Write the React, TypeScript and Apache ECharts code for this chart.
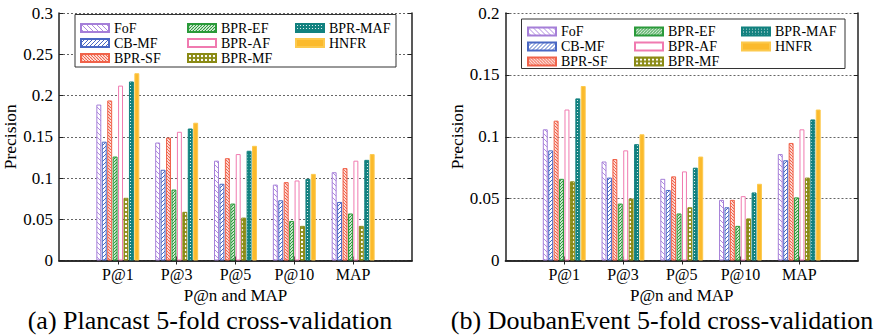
import React, { useEffect, useRef } from 'react';
import * as echarts from 'echarts';

const categories = ['', 'P@1', 'P@3', 'P@5', 'P@10', 'MAP', ''];
const methods = ['FoF', 'CB-MF', 'BPR-SF', 'BPR-EF', 'BPR-AF', 'BPR-MF', 'BPR-MAF', 'HNFR'];

// (a) Plancast
const plancastFoF = [0.189, 0.143, 0.121, 0.092, 0.107];
const plancastCBMF = [0.144, 0.110, 0.093, 0.073, 0.071];
const plancastBPRSF = [0.194, 0.149, 0.124, 0.095, 0.112];
const plancastBPREF = [0.126, 0.086, 0.069, 0.048, 0.057];
const plancastBPRAF = [0.212, 0.156, 0.129, 0.097, 0.121];
const plancastBPRMF = [0.076, 0.059, 0.052, 0.042, 0.042];
const plancastBPRMAF = [0.217, 0.160, 0.133, 0.099, 0.122];
const plancastHNFR = [0.227, 0.167, 0.139, 0.105, 0.129];

// (b) DoubanEvent
const doubanFoF = [0.106, 0.080, 0.066, 0.049, 0.086];
const doubanCBMF = [0.089, 0.067, 0.057, 0.043, 0.081];
const doubanBPRSF = [0.113, 0.082, 0.068, 0.049, 0.095];
const doubanBPREF = [0.066, 0.046, 0.038, 0.028, 0.051];
const doubanBPRAF = [0.122, 0.089, 0.072, 0.052, 0.106];
const doubanBPRMF = [0.064, 0.050, 0.043, 0.034, 0.067];
const doubanBPRMAF = [0.131, 0.094, 0.075, 0.055, 0.114];
const doubanHNFR = [0.141, 0.102, 0.084, 0.062, 0.122];

const plancastSeries = [plancastFoF, plancastCBMF, plancastBPRSF, plancastBPREF, plancastBPRAF, plancastBPRMF, plancastBPRMAF, plancastHNFR];
const doubanSeries = [doubanFoF, doubanCBMF, doubanBPRSF, doubanBPREF, doubanBPRAF, doubanBPRMF, doubanBPRMAF, doubanHNFR];

const plancastTicks = { max: 0.3, interval: 0.05 };
const doubanTicks = { max: 0.2, interval: 0.05 };

const FONT = '"Liberation Serif", "Times New Roman", serif';

function makeCanvas(size: number) {
  const c = document.createElement('canvas');
  c.width = size;
  c.height = size;
  return c;
}

function hatch(color: string, size: number, dir: 'back' | 'fwd', lw: number) {
  const c = makeCanvas(size);
  const ctx = c.getContext('2d')!;
  ctx.fillStyle = '#ffffff';
  ctx.fillRect(0, 0, size, size);
  ctx.strokeStyle = color;
  ctx.lineWidth = lw;
  for (let k = -1; k <= 1; k++) {
    ctx.beginPath();
    if (dir === 'back') {
      ctx.moveTo(k * size, 0);
      ctx.lineTo(k * size + size, size);
    } else {
      ctx.moveTo(k * size, size);
      ctx.lineTo(k * size + size, 0);
    }
    ctx.stroke();
  }
  return { image: c, repeat: 'repeat', imageWidth: size, imageHeight: size };
}

function holes(color: string, size: number, r: number) {
  const c = makeCanvas(size);
  const ctx = c.getContext('2d')!;
  ctx.fillStyle = color;
  ctx.fillRect(0, 0, size, size);
  ctx.fillStyle = '#ffffff';
  ctx.beginPath();
  ctx.arc(size / 2, size / 2, r, 0, Math.PI * 2);
  ctx.fill();
  return { image: c, repeat: 'repeat', imageWidth: size, imageHeight: size };
}

function buildStyles() {
  return [
    { color: hatch('#b08ae0', 5, 'back', 1), borderColor: '#a57fd8', borderWidth: 1 },
    { color: hatch('#4a68c4', 4, 'fwd', 1), borderColor: '#4a68c4', borderWidth: 1 },
    { color: hatch('#f0624a', 3, 'back', 1.2), borderColor: '#f0624a', borderWidth: 1 },
    { color: hatch('#2a9a3a', 3, 'fwd', 1.2), borderColor: '#2a9a3a', borderWidth: 1 },
    { color: '#ffffff', borderColor: '#f07ab0', borderWidth: 1 },
    { color: holes('#8a8a14', 4, 1.2), borderColor: '#8a8a14', borderWidth: 1 },
    { color: holes('#12817f', 3, 0.6), borderColor: '#12817f', borderWidth: 1 },
    { color: '#fbba2c', borderColor: '#fcc94e', borderWidth: 1 },
  ];
}

const gridLine = { show: true, lineStyle: { color: '#666', type: [2, 2], width: 1 } };
const frame = { show: true, lineStyle: { color: '#222', width: 1.5 } };
const hideEdge = (i: number) => i !== 0 && i !== categories.length - 1;

function axesFor(gridIndex: number, ticks: { max: number; interval: number }, nameGap: number) {
  const xAxes = [
    {
      type: 'category', gridIndex, data: categories, boundaryGap: false, position: 'bottom',
      axisLine: frame,
      axisTick: { show: true, inside: true, length: 4, interval: (i: number) => hideEdge(i), lineStyle: { color: '#222' } },
      axisLabel: { fontFamily: FONT, fontSize: 16, color: '#000', margin: 6, interval: 0 },
      name: 'P@n and MAP', nameLocation: 'middle', nameGap: 26,
      nameTextStyle: { fontFamily: FONT, fontSize: 17, color: '#000' },
      splitLine: { show: false },
    },
    {
      type: 'category', gridIndex, data: categories, boundaryGap: false, position: 'top',
      axisLine: frame,
      axisTick: { show: true, inside: true, length: 4, interval: (i: number) => hideEdge(i), lineStyle: { color: '#222' } },
      axisLabel: { show: false },
      splitLine: { show: false },
    },
  ];
  const yAxes = [
    {
      type: 'value', gridIndex, min: 0, max: ticks.max, interval: ticks.interval, position: 'left',
      axisLine: frame,
      axisTick: { show: true, inside: true, length: 4, lineStyle: { color: '#222' } },
      axisLabel: { fontFamily: FONT, fontSize: 17, color: '#000', margin: 6 },
      splitLine: gridLine,
      name: 'Precision', nameLocation: 'middle', nameGap,
      nameTextStyle: { fontFamily: FONT, fontSize: 17.5, color: '#000' },
    },
    {
      type: 'value', gridIndex, min: 0, max: ticks.max, interval: ticks.interval, position: 'right',
      axisLine: frame,
      axisTick: { show: true, inside: true, length: 4, lineStyle: { color: '#222' } },
      axisLabel: { show: false },
      splitLine: { show: false },
    },
  ];
  return { xAxes, yAxes };
}

function legendCols(lefts: number[], top: number) {
  const cols = [methods.slice(0, 3), methods.slice(3, 6), methods.slice(6)];
  return cols.map((data, i) => ({
    data,
    orient: 'vertical',
    left: lefts[i],
    top,
    itemWidth: 28,
    itemHeight: 8,
    itemGap: 1,
    icon: 'rect',
    selectedMode: false,
    padding: 0,
    textStyle: { fontFamily: FONT, fontSize: 14, color: '#000', lineHeight: 13 },
  }));
}

export default function App() {
  const ref = useRef<HTMLDivElement>(null);
  useEffect(() => {
    if (!ref.current) return;
    const chart = echarts.init(ref.current, null, { renderer: 'svg' });
    const styles = buildStyles();
    const a = axesFor(0, plancastTicks, 40);
    const b = axesFor(1, doubanTicks, 33);
    const series: any[] = [];
    methods.forEach((m, i) => {
      series.push({
        type: 'bar', name: m, xAxisIndex: 0, yAxisIndex: 0,
        data: [null, ...plancastSeries[i], null],
        itemStyle: styles[i], barGap: '10%', barCategoryGap: '27%',
      });
    });
    methods.forEach((m, i) => {
      series.push({
        type: 'bar', name: m, xAxisIndex: 2, yAxisIndex: 2,
        data: [null, ...doubanSeries[i], null],
        itemStyle: styles[i], barGap: '10%', barCategoryGap: '27%',
      });
    });
    chart.setOption({
      animation: false,
      backgroundColor: '#ffffff',
      grid: [
        { left: 58, top: 13, width: 354, height: 247.5 },
        { left: 505.5, top: 13, width: 352.5, height: 247.5 },
      ],
      xAxis: [...a.xAxes, ...b.xAxes],
      yAxis: [...a.yAxes, ...b.yAxes],
      legend: [...legendCols([80, 187, 295], 21), ...legendCols([527, 634, 741], 24.5)],
      graphic: [
        { type: 'rect', z: 3, shape: { x: 75, y: 14.5, width: 321, height: 52.5 }, style: { fill: '#fff', stroke: '#333', lineWidth: 1 } },
        { type: 'rect', z: 3, shape: { x: 521.5, y: 19, width: 323.5, height: 49.5 }, style: { fill: '#fff', stroke: '#333', lineWidth: 1 } },
        { type: 'text', z: 3, x: 210, y: 320, style: { text: '(a) Plancast 5-fold cross-validation', font: '26px "Liberation Serif", serif', fill: '#000', textAlign: 'center', textVerticalAlign: 'middle' } },
        { type: 'text', z: 3, x: 662, y: 320, style: { text: '(b) DoubanEvent 5-fold cross-validation', font: '26px "Liberation Serif", serif', fill: '#000', textAlign: 'center', textVerticalAlign: 'middle' } },
      ],
      series,
    });
    return () => chart.dispose();
  }, []);
  return <div ref={ref} style={{ position: 'absolute', left: 0, top: 0, width: 881, height: 336 }} />;
}
